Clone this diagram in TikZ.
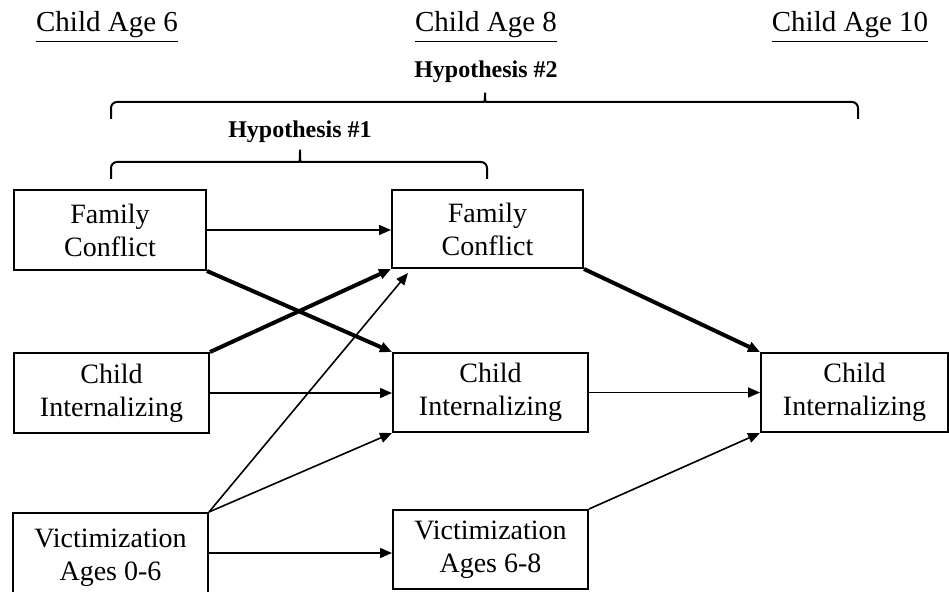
\documentclass[tikz,border=0pt]{standalone}
\usepackage{fontspec}
\setmainfont{Liberation Serif}
\usetikzlibrary{arrows.meta,calc}
\tikzset{
  varbox/.style={draw, line width=1pt, align=center, inner sep=0pt,
    minimum width=97.5pt, minimum height=40pt, font=\fontsize{14}{16.5}\selectfont},
  link/.style={line width=0.8pt, -{Triangle[length=6pt,width=5pt]}},
  strong/.style={link, line width=2pt},
  agelabel/.style={font=\fontsize{14.5}{17}\selectfont, anchor=base},
  hyplabel/.style={font=\fontsize{12}{14}\selectfont\bfseries, anchor=base},
  bracket/.style={line width=1pt, rounded corners=3pt}
}
\begin{document}
\begin{tikzpicture}[x=0.5pt, y=-0.5pt]
\useasboundingbox (0,0) rectangle (949,592);
% time points
\node[agelabel] (age6) at (107,32) {\underline{Child Age 6}};
\node[agelabel] (age8) at (486,32) {\underline{Child Age 8}};
\node[agelabel] (age10) at (850,32) {\underline{Child Age 10}};
% hypotheses
\node[hyplabel] (hyp2) at (486,78) {Hypothesis \#2};
\draw[bracket] (111,119) -- (111,102) -- (478,102) .. controls (485,102) and (485,97) .. (485,89)
  .. controls (485,97) and (485,102) .. (492,102) -- (858,102) -- (858,119);
\node[hyplabel] (hyp1) at (300,138) {Hypothesis \#1};
\draw[bracket] (111,179) -- (111,162) -- (293,162) .. controls (300,162) and (300,156) .. (300,146)
  .. controls (300,156) and (300,162) .. (307,162) -- (487,162) -- (487,179);
% age 6
\node[varbox, minimum width=96pt] (fc6) at (110,230) {Family\\Conflict};
\node[varbox] (ci6) at (111.5,393) {Child\\Internalizing};
\node[varbox, minimum height=45pt] (vic6) at (110.5,558) {Victimization\\Ages 0-6};
% age 8
\node[varbox, minimum width=95.5pt, minimum height=39pt] (fc8) at (487.5,229) {Family\\Conflict};
\node[varbox, minimum height=39.5pt] (ci8) at (490.5,392.5) {Child\\Internalizing};
\node[varbox, minimum height=39.5pt] (vic8) at (490.5,549.5) {Victimization\\Ages 6-8};
% age 10
\node[varbox, minimum width=93.5pt, minimum height=39.5pt] (ci10) at (854.5,392.5) {Child\\Internalizing};
\coordinate (fc8in) at ($(fc8.south west)+(17,4)$);
% paths
\draw[link] (fc6.east) -- (fc6.east -| fc8.west);
\draw[strong] (fc6.south east) -- (ci8.north west);
\draw[strong] (ci6.north east) -- (fc8.south west);
\draw[link] (ci6.east) -- (ci6.east -| ci8.west);
\draw[link] (vic6.north east) -- (fc8in);
\draw[link] (vic6.north east) -- (ci8.south west);
\draw[link] ($(vic6.east)+(0,-5)$) -- ($(vic6.east -| vic8.west)+(0,-5)$);
\draw[link] (ci8.east) -- (ci10.west);
\draw[strong] (fc8.south east) -- (ci10.north west);
\draw[link] (vic8.north east) -- (ci10.south west);
\end{tikzpicture}
\end{document}
